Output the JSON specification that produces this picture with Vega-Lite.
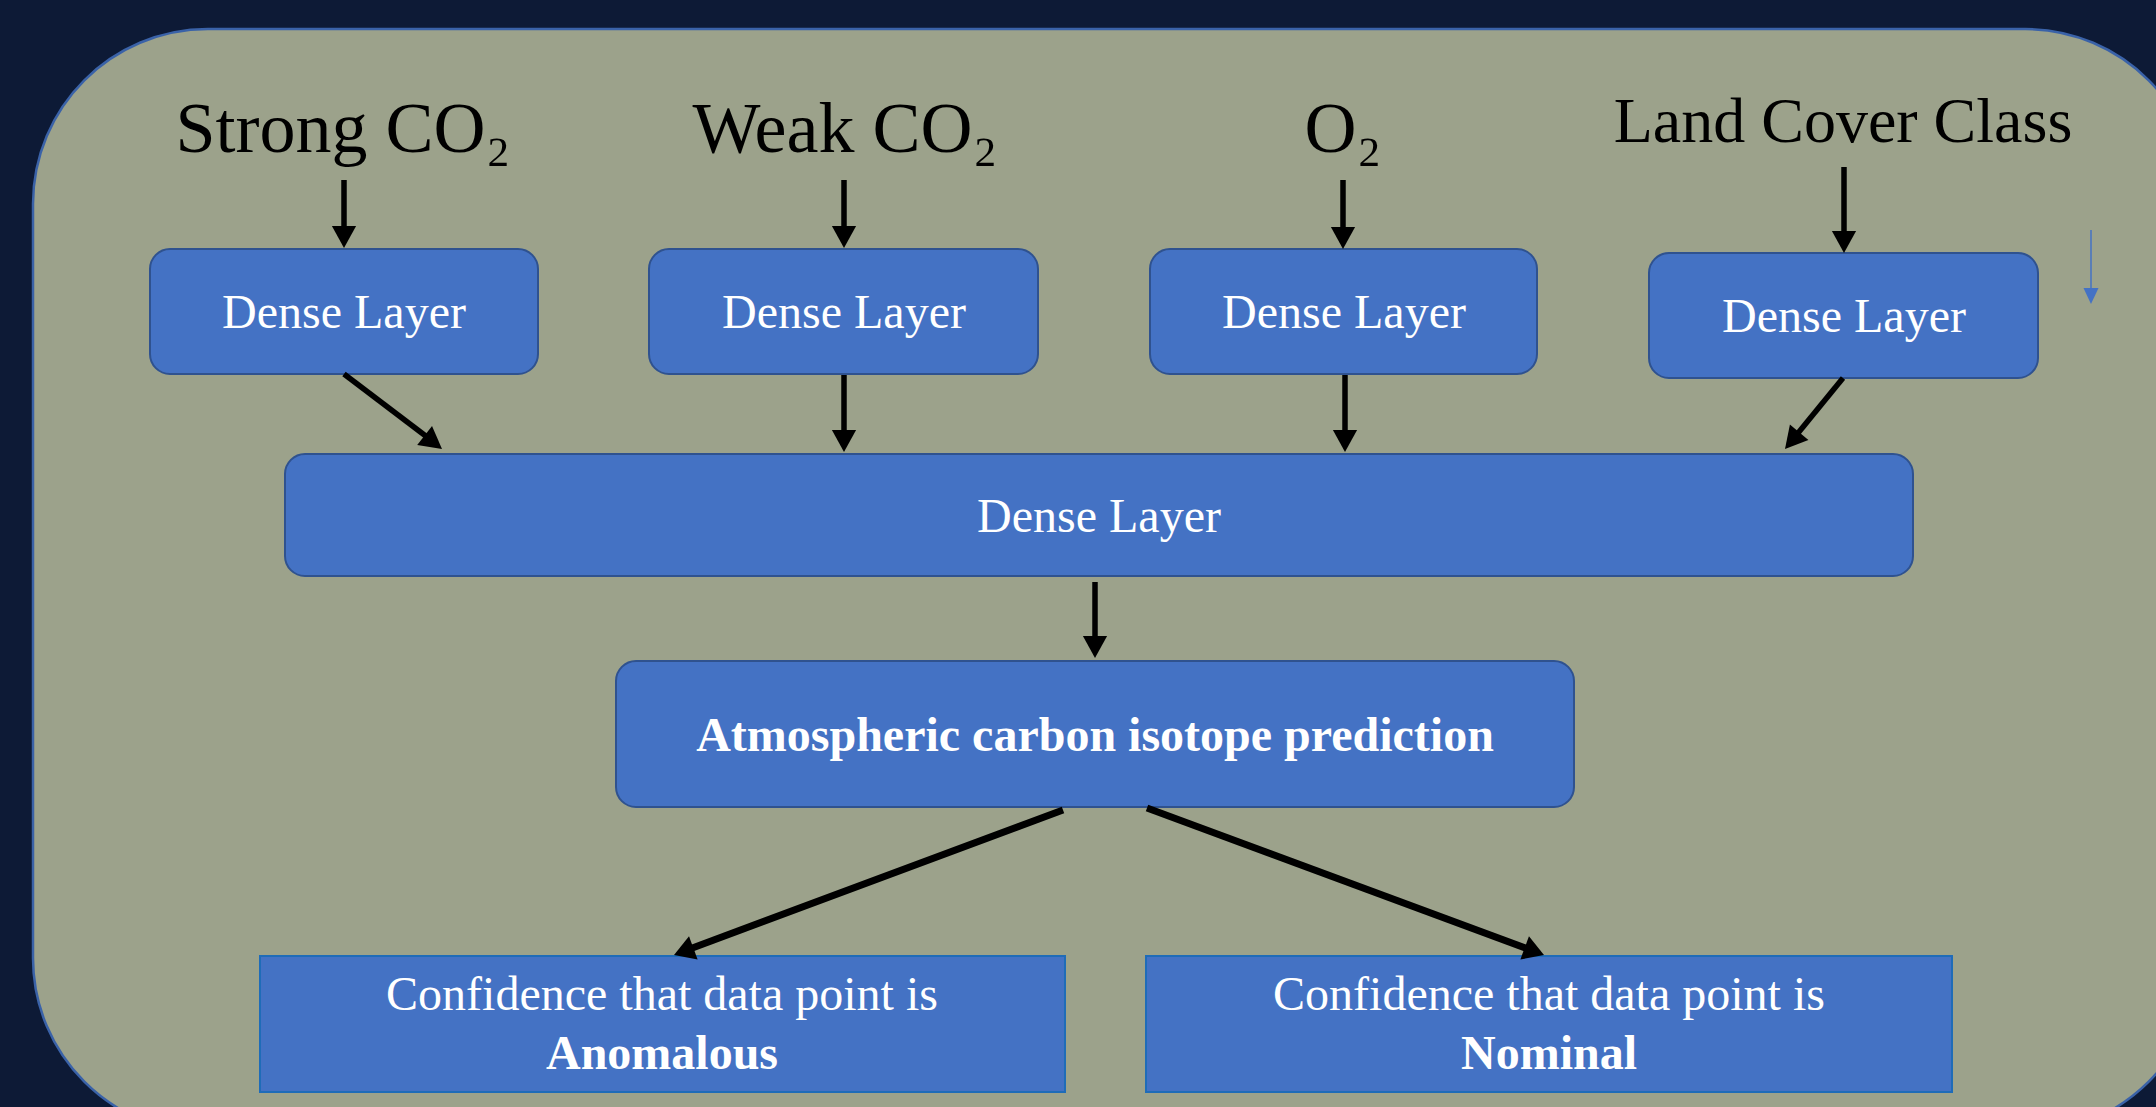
{
  "$schema": "https://vega.github.io/schema/vega-lite/v6.json",
  "width": 2156,
  "height": 1107,
  "padding": 0,
  "autosize": {"type": "none"},
  "background": "#0d1a36",
  "config": {"view": {"stroke": null}},
  "datasets": {
    "panel": [{"x1": 33, "x2": 2200, "y1": 29, "y2": 1133}],
    "nodes": [
      {"id": "d1", "kind": "rounded", "x1": 150, "x2": 538, "y1": 249, "y2": 374},
      {"id": "d2", "kind": "rounded", "x1": 649, "x2": 1038, "y1": 249, "y2": 374},
      {"id": "d3", "kind": "rounded", "x1": 1150, "x2": 1537, "y1": 249, "y2": 374},
      {"id": "d4", "kind": "rounded", "x1": 1649, "x2": 2038, "y1": 253, "y2": 378},
      {"id": "mid", "kind": "rounded", "x1": 285, "x2": 1913, "y1": 454, "y2": 576},
      {"id": "pred", "kind": "rounded", "x1": 616, "x2": 1574, "y1": 661, "y2": 807},
      {"id": "anom", "kind": "square", "x1": 260, "x2": 1065, "y1": 956, "y2": 1092},
      {"id": "nom", "kind": "square", "x1": 1146, "x2": 1952, "y1": 956, "y2": 1092}
    ],
    "edges": [
      {"kind": "top", "x1": 344, "y1": 180, "xe": 344, "ye": 234, "xt": 344, "yt": 248, "angle": 0},
      {"kind": "top", "x1": 844, "y1": 180, "xe": 844, "ye": 234, "xt": 844, "yt": 248, "angle": 0},
      {"kind": "top", "x1": 1343, "y1": 180, "xe": 1343, "ye": 235, "xt": 1343, "yt": 249, "angle": 0},
      {"kind": "top", "x1": 1844, "y1": 167, "xe": 1844, "ye": 239, "xt": 1844, "yt": 253, "angle": 0},
      {"kind": "top", "x1": 344, "y1": 374, "xe": 431, "ye": 440, "xt": 442, "yt": 449, "angle": 307.8},
      {"kind": "top", "x1": 844, "y1": 375, "xe": 844, "ye": 438, "xt": 844, "yt": 452, "angle": 0},
      {"kind": "top", "x1": 1345, "y1": 375, "xe": 1345, "ye": 438, "xt": 1345, "yt": 452, "angle": 0},
      {"kind": "top", "x1": 1843, "y1": 378, "xe": 1794, "ye": 438, "xt": 1785, "yt": 449, "angle": 40.1},
      {"kind": "top", "x1": 1095, "y1": 582, "xe": 1095, "ye": 644, "xt": 1095, "yt": 658, "angle": 0},
      {"kind": "out", "x1": 1063, "y1": 810, "xe": 687, "ye": 950, "xt": 674, "yt": 955, "angle": 69.6},
      {"kind": "out", "x1": 1147, "y1": 808, "xe": 1531, "ye": 950, "xt": 1544, "yt": 955, "angle": 290.3},
      {"kind": "blue", "x1": 2091, "y1": 230, "xe": 2091, "ye": 295, "xt": 2091, "yt": 304, "angle": 0}
    ],
    "texts": [
      {"role": "head", "x": 343, "y": 152, "t": "Strong CO₂"},
      {"role": "head", "x": 845, "y": 152, "t": "Weak CO₂"},
      {"role": "head", "x": 1343, "y": 152, "t": "O₂"},
      {"role": "headlong", "x": 1843, "y": 142, "t": "Land Cover Class"},
      {"role": "node", "x": 344, "y": 328, "t": "Dense Layer"},
      {"role": "node", "x": 844, "y": 328, "t": "Dense Layer"},
      {"role": "node", "x": 1344, "y": 328, "t": "Dense Layer"},
      {"role": "node", "x": 1844, "y": 332, "t": "Dense Layer"},
      {"role": "node", "x": 1099, "y": 532, "t": "Dense Layer"},
      {"role": "nodebold", "x": 1095, "y": 751, "t": "Atmospheric carbon isotope prediction"},
      {"role": "node", "x": 662, "y": 1010, "t": "Confidence that data point is"},
      {"role": "nodebold", "x": 662, "y": 1069, "t": "Anomalous"},
      {"role": "node", "x": 1549, "y": 1010, "t": "Confidence that data point is"},
      {"role": "nodebold", "x": 1549, "y": 1069, "t": "Nominal"}
    ]
  },
  "layer": [
    {
      "data": {"name": "panel"},
      "mark": {"type": "rect", "fill": "#9ca28b", "stroke": "#3a62a8", "strokeWidth": 2.5, "cornerRadius": 175},
      "encoding": {
        "x": {"field": "x1", "type": "quantitative", "scale": {"domain": [0, 2156], "nice": false, "zero": false}, "axis": null},
        "x2": {"field": "x2"},
        "y": {"field": "y1", "type": "quantitative", "scale": {"domain": [0, 1107], "nice": false, "zero": false, "reverse": true}, "axis": null},
        "y2": {"field": "y2"}
      }
    },
    {
      "data": {"name": "nodes"},
      "transform": [{"filter": "datum.kind == 'rounded'"}],
      "mark": {"type": "rect", "fill": "#4472c4", "stroke": "#2f528f", "strokeWidth": 2, "cornerRadius": 20},
      "encoding": {
        "x": {"field": "x1", "type": "quantitative", "scale": {"domain": [0, 2156], "nice": false, "zero": false}, "axis": null},
        "x2": {"field": "x2"},
        "y": {"field": "y1", "type": "quantitative", "scale": {"domain": [0, 1107], "nice": false, "zero": false, "reverse": true}, "axis": null},
        "y2": {"field": "y2"}
      }
    },
    {
      "data": {"name": "nodes"},
      "transform": [{"filter": "datum.kind == 'square'"}],
      "mark": {"type": "rect", "fill": "#4472c4", "stroke": "#1f6cb8", "strokeWidth": 2, "cornerRadius": 0},
      "encoding": {
        "x": {"field": "x1", "type": "quantitative", "scale": {"domain": [0, 2156], "nice": false, "zero": false}, "axis": null},
        "x2": {"field": "x2"},
        "y": {"field": "y1", "type": "quantitative", "scale": {"domain": [0, 1107], "nice": false, "zero": false, "reverse": true}, "axis": null},
        "y2": {"field": "y2"}
      }
    },
    {
      "data": {"name": "edges"},
      "transform": [{"filter": "datum.kind == 'top'"}],
      "mark": {"type": "rule", "color": "#000000", "strokeWidth": 5.5, "strokeCap": "butt"},
      "encoding": {
        "x": {"field": "x1", "type": "quantitative", "scale": {"domain": [0, 2156], "nice": false, "zero": false}, "axis": null},
        "x2": {"field": "xe"},
        "y": {"field": "y1", "type": "quantitative", "scale": {"domain": [0, 1107], "nice": false, "zero": false, "reverse": true}, "axis": null},
        "y2": {"field": "ye"}
      }
    },
    {
      "data": {"name": "edges"},
      "transform": [{"filter": "datum.kind == 'out'"}],
      "mark": {"type": "rule", "color": "#000000", "strokeWidth": 7, "strokeCap": "butt"},
      "encoding": {
        "x": {"field": "x1", "type": "quantitative", "scale": {"domain": [0, 2156], "nice": false, "zero": false}, "axis": null},
        "x2": {"field": "xe"},
        "y": {"field": "y1", "type": "quantitative", "scale": {"domain": [0, 1107], "nice": false, "zero": false, "reverse": true}, "axis": null},
        "y2": {"field": "ye"}
      }
    },
    {
      "data": {"name": "edges"},
      "transform": [{"filter": "datum.kind == 'blue'"}],
      "mark": {"type": "rule", "color": "#4472c4", "strokeWidth": 1.5, "strokeCap": "butt"},
      "encoding": {
        "x": {"field": "x1", "type": "quantitative", "scale": {"domain": [0, 2156], "nice": false, "zero": false}, "axis": null},
        "x2": {"field": "xe"},
        "y": {"field": "y1", "type": "quantitative", "scale": {"domain": [0, 1107], "nice": false, "zero": false, "reverse": true}, "axis": null},
        "y2": {"field": "ye"}
      }
    },
    {
      "data": {"name": "edges"},
      "transform": [{"filter": "datum.kind == 'top'"}],
      "mark": {"type": "point", "shape": "M0,0L-0.55,-1L0.55,-1Z", "filled": true, "color": "#000000", "opacity": 1, "size": 1936, "strokeWidth": 0},
      "encoding": {
        "x": {"field": "xt", "type": "quantitative", "scale": {"domain": [0, 2156], "nice": false, "zero": false}, "axis": null},
        "y": {"field": "yt", "type": "quantitative", "scale": {"domain": [0, 1107], "nice": false, "zero": false, "reverse": true}, "axis": null},
        "angle": {"field": "angle", "type": "quantitative", "scale": null}
      }
    },
    {
      "data": {"name": "edges"},
      "transform": [{"filter": "datum.kind == 'out'"}],
      "mark": {"type": "point", "shape": "M0,0L-0.6,-1L0.6,-1Z", "filled": true, "color": "#000000", "opacity": 1, "size": 1700, "strokeWidth": 0},
      "encoding": {
        "x": {"field": "xt", "type": "quantitative", "scale": {"domain": [0, 2156], "nice": false, "zero": false}, "axis": null},
        "y": {"field": "yt", "type": "quantitative", "scale": {"domain": [0, 1107], "nice": false, "zero": false, "reverse": true}, "axis": null},
        "angle": {"field": "angle", "type": "quantitative", "scale": null}
      }
    },
    {
      "data": {"name": "edges"},
      "transform": [{"filter": "datum.kind == 'blue'"}],
      "mark": {"type": "point", "shape": "M0,0L-0.47,-1L0.47,-1Z", "filled": true, "color": "#4472c4", "opacity": 1, "size": 1024, "strokeWidth": 0},
      "encoding": {
        "x": {"field": "xt", "type": "quantitative", "scale": {"domain": [0, 2156], "nice": false, "zero": false}, "axis": null},
        "y": {"field": "yt", "type": "quantitative", "scale": {"domain": [0, 1107], "nice": false, "zero": false, "reverse": true}, "axis": null},
        "angle": {"field": "angle", "type": "quantitative", "scale": null}
      }
    },
    {
      "data": {"name": "texts"},
      "transform": [{"filter": "datum.role == 'head'"}],
      "mark": {"type": "text", "font": "Liberation Serif", "fontSize": 72, "color": "#000000", "align": "center", "baseline": "alphabetic"},
      "encoding": {
        "x": {"field": "x", "type": "quantitative", "scale": {"domain": [0, 2156], "nice": false, "zero": false}, "axis": null},
        "y": {"field": "y", "type": "quantitative", "scale": {"domain": [0, 1107], "nice": false, "zero": false, "reverse": true}, "axis": null},
        "text": {"field": "t"}
      }
    },
    {
      "data": {"name": "texts"},
      "transform": [{"filter": "datum.role == 'headlong'"}],
      "mark": {"type": "text", "font": "Liberation Serif", "fontSize": 64, "color": "#000000", "align": "center", "baseline": "alphabetic"},
      "encoding": {
        "x": {"field": "x", "type": "quantitative", "scale": {"domain": [0, 2156], "nice": false, "zero": false}, "axis": null},
        "y": {"field": "y", "type": "quantitative", "scale": {"domain": [0, 1107], "nice": false, "zero": false, "reverse": true}, "axis": null},
        "text": {"field": "t"}
      }
    },
    {
      "data": {"name": "texts"},
      "transform": [{"filter": "datum.role == 'node'"}],
      "mark": {"type": "text", "font": "Liberation Serif", "fontSize": 48, "color": "#ffffff", "align": "center", "baseline": "alphabetic"},
      "encoding": {
        "x": {"field": "x", "type": "quantitative", "scale": {"domain": [0, 2156], "nice": false, "zero": false}, "axis": null},
        "y": {"field": "y", "type": "quantitative", "scale": {"domain": [0, 1107], "nice": false, "zero": false, "reverse": true}, "axis": null},
        "text": {"field": "t"}
      }
    },
    {
      "data": {"name": "texts"},
      "transform": [{"filter": "datum.role == 'nodebold'"}],
      "mark": {"type": "text", "font": "Liberation Serif", "fontSize": 48, "fontWeight": "bold", "color": "#ffffff", "align": "center", "baseline": "alphabetic"},
      "encoding": {
        "x": {"field": "x", "type": "quantitative", "scale": {"domain": [0, 2156], "nice": false, "zero": false}, "axis": null},
        "y": {"field": "y", "type": "quantitative", "scale": {"domain": [0, 1107], "nice": false, "zero": false, "reverse": true}, "axis": null},
        "text": {"field": "t"}
      }
    }
  ]
}
